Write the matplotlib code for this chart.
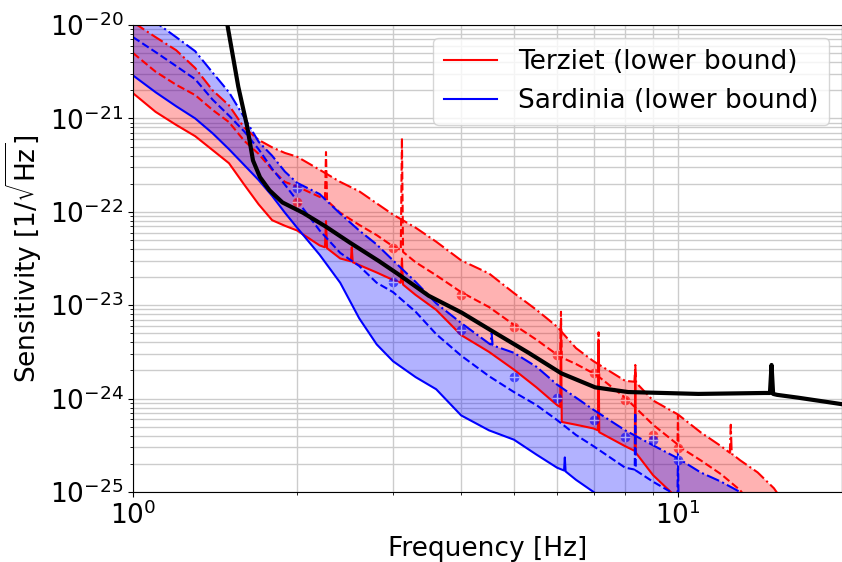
import numpy as np
import matplotlib.pyplot as plt
from matplotlib.ticker import NullFormatter

# values are log10 of the sensitivity [1/sqrt(Hz)]

# Terziet, upper percentile (dash-dot)
terz_hi_f = [1.0, 1.1, 1.2, 1.3, 1.4, 1.5, 1.6, 1.7, 1.8, 1.9, 2.0, 2.2, 2.4, 2.6, 2.8,
             3.0, 3.3, 3.6, 4.0, 4.5, 5.0, 5.5, 6.0, 6.5, 7.0, 8.0, 8.32, 8.35, 8.38,
             9.0, 10, 11, 12, 12.45, 12.5, 12.55, 13, 14, 15, 15.5]
terz_hi = [-19.97, -20.13, -20.27, -20.46, -20.70, -20.86, -21.10, -21.23, -21.31, -21.37,
           -21.41, -21.55, -21.68, -21.78, -21.91, -22.03, -22.17, -22.32, -22.52, -22.66,
           -22.87, -23.05, -23.23, -23.46, -23.60, -23.81, -23.82, -23.64, -23.83,
           -24.02, -24.17, -24.36, -24.51, -24.58, -24.28, -24.59, -24.66, -24.79, -24.96, -25.08]

# Terziet, median (dashed)
terz_mid_f = [1.0, 1.1, 1.2, 1.3, 1.4, 1.5, 1.6, 1.7, 1.8, 1.9, 2.0, 2.2, 2.25, 2.26, 2.27,
              2.4, 2.6, 2.8, 3.0, 3.10, 3.115, 3.13, 3.3, 3.6, 4.0, 4.5, 5.0, 5.5, 6.0,
              6.08, 6.1, 6.12, 6.5, 7.0, 7.13, 7.15, 7.17, 8.0, 9.0, 9.98, 10.0, 10.02,
              11, 12, 13, 13.4]
terz_mid = [-20.30, -20.50, -20.64, -20.75, -20.91, -21.04, -21.24, -21.38, -21.55, -21.68,
            -21.73, -21.84, -21.86, -21.36, -21.88, -22.01, -22.14, -22.25, -22.37,
            -22.41, -21.21, -22.43, -22.54, -22.68, -22.86, -23.02, -23.21, -23.37, -23.53,
            -23.55, -23.07, -23.56, -23.63, -23.73, -23.76, -23.29, -23.77, -23.99, -24.28,
            -24.49, -24.18, -24.51, -24.66, -24.81, -24.98, -25.08]

# Terziet, lower bound (solid)
terz_lo_f = [1.0, 1.1, 1.2, 1.3, 1.4, 1.5, 1.6, 1.7, 1.8, 1.9, 2.0, 2.2, 2.25, 2.26, 2.27,
             2.4, 2.51, 2.52, 2.53, 2.6, 2.8, 3.0, 3.10, 3.115, 3.13, 3.3, 3.6, 4.0, 4.5,
             5.0, 5.5, 6.0, 6.08, 6.1, 6.12, 6.5, 7.0, 7.13, 7.15, 7.17, 8.0, 8.33, 8.35,
             8.37, 9.0, 9.7, 10.0]
terz_lo = [-20.73, -20.93, -21.07, -21.19, -21.34, -21.48, -21.71, -21.92, -22.09, -22.15,
           -22.20, -22.36, -22.38, -22.10, -22.39, -22.50, -22.53, -22.38, -22.54, -22.57,
           -22.65, -22.73, -22.76, -22.50, -22.78, -22.89, -23.05, -23.32, -23.50, -23.69,
           -23.88, -24.07, -24.09, -23.20, -24.25, -24.28, -24.32, -24.34, -23.40, -24.36,
           -24.51, -24.56, -23.72, -24.58, -24.82, -25.0, -25.06]

# Sardinia, upper percentile (dash-dot)
sard_hi_f = [1.0, 1.1, 1.2, 1.3, 1.4, 1.5, 1.6, 1.7, 1.8, 1.9, 2.0, 2.2, 2.4, 2.6, 2.8,
             3.0, 3.3, 3.6, 4.0, 4.5, 4.53, 4.55, 4.57, 5.0, 5.5, 6.0, 6.5, 7.0, 8.0,
             9.0, 10, 11, 12, 13, 13.5]
sard_hi = [-19.79, -19.97, -20.13, -20.28, -20.51, -20.72, -20.99, -21.25, -21.40, -21.57,
           -21.69, -21.81, -22.02, -22.20, -22.35, -22.52, -22.75, -22.98, -23.19, -23.41,
           -23.42, -23.30, -23.43, -23.51, -23.66, -23.85, -23.99, -24.12, -24.34,
           -24.50, -24.64, -24.79, -24.89, -25.0, -25.06]

# Sardinia, median (dashed)
sard_mid_f = [1.0, 1.1, 1.2, 1.3, 1.4, 1.5, 1.6, 1.7, 1.8, 1.9, 2.0, 2.2, 2.4, 2.6, 2.8,
              3.0, 3.3, 3.6, 4.0, 4.5, 5.0, 5.5, 6.0, 6.5, 7.0, 8.0, 8.33, 8.35, 8.37,
              9.0, 9.7, 9.98, 10.0, 10.02, 10.3]
sard_mid = [-20.13, -20.29, -20.44, -20.58, -20.80, -20.97, -21.14, -21.33, -21.54, -21.71,
            -21.88, -22.20, -22.44, -22.58, -22.76, -22.86, -23.07, -23.31, -23.54, -23.76,
            -23.93, -24.07, -24.23, -24.39, -24.51, -24.74, -24.76, -24.15, -24.77,
            -24.89, -25.0, -25.02, -24.58, -25.04, -25.08]

# Sardinia, lower bound (solid)
sard_lo_f = [1.0, 1.1, 1.2, 1.3, 1.4, 1.5, 1.6, 1.7, 1.8, 1.9, 2.0, 2.2, 2.4, 2.6, 2.8,
             3.0, 3.3, 3.6, 4.0, 4.5, 5.0, 5.5, 6.0, 6.18, 6.2, 6.22, 6.5, 7.0, 7.2]
sard_lo = [-20.54, -20.72, -20.87, -21.00, -21.16, -21.33, -21.50, -21.66, -21.83, -22.01,
           -22.17, -22.46, -22.76, -23.14, -23.42, -23.60, -23.77, -23.90, -24.18, -24.34,
           -24.44, -24.60, -24.74, -24.77, -24.63, -24.78, -24.87, -25.0, -25.06]

# point estimates at integer frequencies
mark_f = [2, 3, 4, 5, 6, 7, 8, 9, 10]
terz_mark = [-21.90, -22.39, -22.89, -23.23, -23.53, -23.73, -24.02, -24.39, -24.53]
sard_mark = [-21.75, -22.75, -23.27, -23.77, -23.99, -24.23, -24.41, -24.44, -24.66]

# detector sensitivity curve (black)
det_f = [1.46, 1.49, 1.56, 1.62, 1.66, 1.71, 1.78, 1.88, 2.05, 2.26, 2.5, 2.83, 3.07, 3.49,
         4.01, 4.63, 5.32, 6.11, 7.05, 8.1, 10.9, 14.4, 14.75, 14.85, 14.95, 15.2, 16.6, 20.0]
det = [-19.75, -20.0, -20.66, -21.09, -21.45, -21.63, -21.77, -21.90, -22.01, -22.16,
       -22.33, -22.53, -22.67, -22.90, -23.08, -23.30, -23.51, -23.73, -23.88, -23.93,
       -23.95, -23.94, -23.94, -23.64, -23.95, -23.96, -23.99, -24.06]

y_ticks = [1e-25, 1e-24, 1e-23, 1e-22, 1e-21, 1e-20]
x_ticks = [1, 10]


def arr(v):
    return 10.0 ** np.array(v)


def band(ax, f_hi, v_hi, f_lo, v_lo, color):
    xs = np.concatenate([np.array(f_hi), np.array(f_lo)[::-1]])
    ys = np.concatenate([arr(v_hi), arr(v_lo)[::-1]])
    ax.fill(xs, ys, color=color, alpha=0.3, lw=0, zorder=1)


plt.rcParams['font.size'] = 19

fig = plt.figure(figsize=(8.42, 5.62), dpi=100)
ax = fig.add_axes([0.158, 0.1246, 0.842, 0.8309])

band(ax, terz_hi_f, terz_hi, terz_lo_f, terz_lo, 'red')
band(ax, sard_hi_f, sard_hi, sard_lo_f, sard_lo, 'blue')

lw = 1.5
ax.plot(terz_hi_f, arr(terz_hi), color='red', ls='-.', lw=lw, zorder=2)
ax.plot(terz_mid_f, arr(terz_mid), color='red', ls='--', lw=lw, zorder=2)
ax.plot(terz_lo_f, arr(terz_lo), color='red', ls='-', lw=lw, zorder=2,
        label='Terziet (lower bound)')
ax.plot(sard_hi_f, arr(sard_hi), color='blue', ls='-.', lw=lw, zorder=2)
ax.plot(sard_mid_f, arr(sard_mid), color='blue', ls='--', lw=lw, zorder=2)
ax.plot(sard_lo_f, arr(sard_lo), color='blue', ls='-', lw=lw, zorder=2,
        label='Sardinia (lower bound)')

for vals, col in [(terz_mark, 'red'), (sard_mark, 'blue')]:
    ax.plot(mark_f, arr(vals), ls='none', marker='o', ms=7, color=col, alpha=0.65,
            mew=0, zorder=3)
    ax.plot(mark_f, arr(vals), ls='none', marker='+', ms=7, color='white', alpha=0.6,
            mew=1.0, zorder=3)

ax.plot(det_f, arr(det), color='black', lw=3, zorder=4)

ax.set_xscale('log')
ax.set_yscale('log')
ax.set_xlim(1, 20)
ax.set_ylim(1e-25, 1e-20)
ax.set_yticks(y_ticks)
ax.set_xticks(x_ticks)
ax.xaxis.set_minor_formatter(NullFormatter())
ax.yaxis.set_minor_formatter(NullFormatter())
ax.grid(True, which='both', color='0.8', lw=1.0)
ax.set_axisbelow(True)

ax.set_xlabel('Frequency [Hz]')
ax.set_ylabel(r'Sensitivity [1/$\sqrt{\mathrm{Hz}}$]')
ax.legend(loc='upper right')

fig.savefig('out.png', dpi=100)
